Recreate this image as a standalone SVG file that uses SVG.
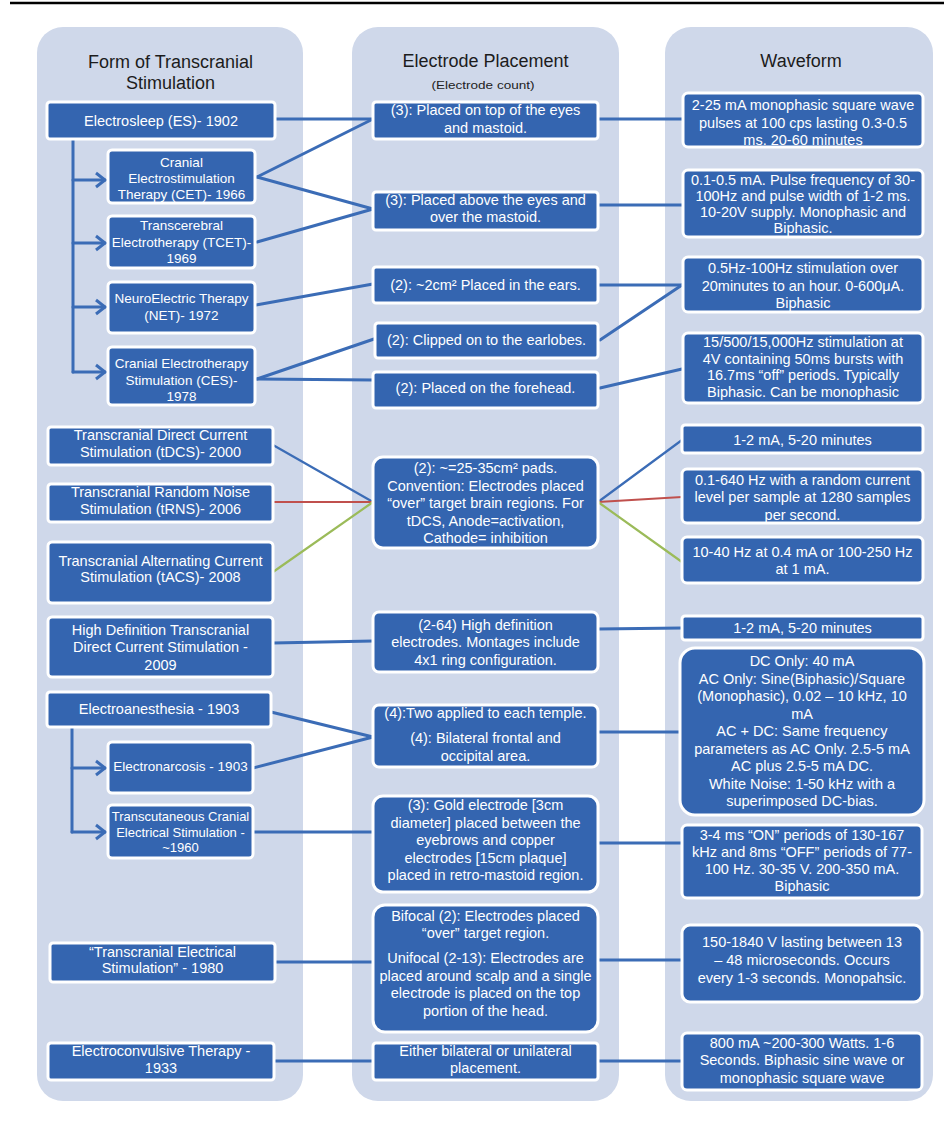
<svg xmlns="http://www.w3.org/2000/svg" width="944" height="1141" viewBox="0 0 944 1141">
<style>
.panel{fill:#cfd8ea}
.hdr{fill:#1c1c1c;font-family:"Liberation Sans",Arial,sans-serif;font-size:18px;text-anchor:middle}
.sub{fill:#222;font-family:"Liberation Sans",Arial,sans-serif;font-size:11px;text-anchor:middle}
.node rect{fill:#3465b0;stroke:#ffffff;stroke-width:3}
.node text{fill:#ffffff;font-family:"Liberation Sans",Arial,sans-serif;font-size:14.5px;text-anchor:middle}
.node text.s{font-size:13.5px}
.node text.xs{font-size:13px}
.c{fill:none;stroke:#3b6cb6;stroke-width:3;stroke-linecap:round}
.thin{stroke-width:2.2}
.red{stroke:#c0504d}
.green{stroke:#9bbb59}
</style>
<defs>
<marker id="arr" markerUnits="userSpaceOnUse" markerWidth="14" markerHeight="18" refX="11" refY="9" orient="auto">
<path d="M2,2 L11,9 L2,16" fill="none" stroke="#3b6cb6" stroke-width="3"/>
</marker>
</defs>
<rect width="944" height="1141" fill="#ffffff"/>
<line x1="10" y1="3" x2="944" y2="3" stroke="#000" stroke-width="2.5"/>
<g id="panels">
<rect class="panel" x="37" y="27" width="266" height="1074" rx="26"/>
<rect class="panel" x="352" y="27" width="267" height="1074" rx="26"/>
<rect class="panel" x="665" y="27" width="268" height="1074" rx="26"/>
<text class="hdr" x="170.5" y="68">Form of Transcranial</text>
<text class="hdr" x="170.5" y="88.5">Stimulation</text>
<text class="hdr" x="485.5" y="67">Electrode Placement</text>
<text class="sub" x="483" y="88.5" textLength="103" lengthAdjust="spacingAndGlyphs">(Electrode count)</text>
<text class="hdr" x="801" y="67">Waveform</text>
</g>
<g id="connectors">
<path class="c" d="M73,139 V372"/>
<path class="c" d="M73,180 H105" marker-end="url(#arr)"/>
<path class="c" d="M73,243 H105" marker-end="url(#arr)"/>
<path class="c" d="M73,307 H105" marker-end="url(#arr)"/>
<path class="c" d="M73,372 H105" marker-end="url(#arr)"/>
<path class="c" d="M72,727 V832"/>
<path class="c" d="M72,768 H105" marker-end="url(#arr)"/>
<path class="c" d="M72,832 H105" marker-end="url(#arr)"/>
<path class="c" d="M275,119 L373,119"/>
<path class="c" d="M257,177 L373,119"/>
<path class="c" d="M257,177 L373,209"/>
<path class="c" d="M257,242 L373,209"/>
<path class="c" d="M256,305 L373,284"/>
<path class="c" d="M257,379 L374,339"/>
<path class="c" d="M257,379 L373,380"/>
<path class="c" d="M598,119 L683,119"/>
<path class="c" d="M598,205 L683,205"/>
<path class="c" d="M598,285 L682,285"/>
<path class="c" d="M600,340 L682,285"/>
<path class="c" d="M600,388 L682,369"/>
<path class="c thin" d="M273,445 L373,502"/>
<path class="c thin red" d="M273,502 L373,502"/>
<path class="c thin green" d="M273,572 L373,502"/>
<path class="c thin" d="M598,502 L682,440"/>
<path class="c thin red" d="M598,502 L682,497"/>
<path class="c thin green" d="M598,502 L682,562"/>
<path class="c" d="M273,643 L373,641"/>
<path class="c" d="M598,629 L682,628"/>
<path class="c" d="M271,712 L373,737"/>
<path class="c" d="M253,768 L373,737"/>
<path class="c" d="M598,732 L680,732"/>
<path class="c" d="M253,832 L373,832"/>
<path class="c" d="M598,843 L682,843"/>
<path class="c" d="M275,962 L373,962"/>
<path class="c" d="M598,960 L682,960"/>
<path class="c" d="M274,1061 L373,1061"/>
<path class="c" d="M598,1061 L682,1061"/>
</g>
<g id="n-es" class="node"><rect x="47" y="102" width="228" height="37" rx="3"/><text x="161" y="125.5">Electrosleep (ES)- 1902</text></g>
<g id="n-cet" class="node"><rect x="108" y="150" width="147" height="53" rx="4"/><text class="s"><tspan x="181.5" y="166.5">Cranial</tspan><tspan x="181.5" y="183">Electrostimulation</tspan><tspan x="181.5" y="199">Therapy (CET)- 1966</tspan></text></g>
<g id="n-tcet" class="node"><rect x="108" y="216" width="147" height="52" rx="4"/><text class="s"><tspan x="181.5" y="230">Transcerebral</tspan><tspan x="181.5" y="246.5">Electrotherapy (TCET)-</tspan><tspan x="181.5" y="263">1969</tspan></text></g>
<g id="n-net" class="node"><rect x="108" y="282" width="147" height="51" rx="4"/><text class="s"><tspan x="181.5" y="303">NeuroElectric Therapy</tspan><tspan x="181.5" y="320">(NET)- 1972</tspan></text></g>
<g id="n-ces" class="node"><rect x="108" y="347" width="147" height="58" rx="4"/><text class="s"><tspan x="181.5" y="368">Cranial Electrotherapy</tspan><tspan x="181.5" y="385">Stimulation (CES)-</tspan><tspan x="181.5" y="401">1978</tspan></text></g>
<g id="n-tdcs" class="node"><rect x="48" y="427" width="225" height="38" rx="3"/><text><tspan x="160.5" y="440">Transcranial Direct Current</tspan><tspan x="160.5" y="457">Stimulation (tDCS)- 2000</tspan></text></g>
<g id="n-trns" class="node"><rect x="48" y="484" width="225" height="38" rx="3"/><text><tspan x="160.5" y="496.5">Transcranial Random Noise</tspan><tspan x="160.5" y="514">Stimulation (tRNS)- 2006</tspan></text></g>
<g id="n-tacs" class="node"><rect x="48" y="542" width="225" height="61" rx="4"/><text><tspan x="160.5" y="565.5">Transcranial Alternating Current</tspan><tspan x="160.5" y="582">Stimulation (tACS)- 2008</tspan></text></g>
<g id="n-hd" class="node"><rect x="48" y="617" width="225" height="60" rx="4"/><text><tspan x="160.5" y="635">High Definition Transcranial</tspan><tspan x="160.5" y="652">Direct Current Stimulation -</tspan><tspan x="160.5" y="669.5">2009</tspan></text></g>
<g id="n-ea" class="node"><rect x="47" y="692" width="224" height="35" rx="3"/><text x="159" y="713.5">Electroanesthesia - 1903</text></g>
<g id="n-en" class="node"><rect x="108" y="742" width="145" height="51" rx="4"/><text class="s" x="180.5" y="771">Electronarcosis - 1903</text></g>
<g id="n-tces" class="node"><rect x="108" y="805" width="145" height="53" rx="4"/><text class="xs"><tspan x="180.5" y="820.5">Transcutaneous Cranial</tspan><tspan x="180.5" y="836.5">Electrical Stimulation -</tspan><tspan x="180.5" y="852">~1960</tspan></text></g>
<g id="n-tes" class="node"><rect x="50" y="943" width="225" height="39" rx="3"/><text><tspan x="162.5" y="956.5">“Transcranial Electrical</tspan><tspan x="162.5" y="972.5">Stimulation” - 1980</tspan></text></g>
<g id="n-ect" class="node"><rect x="48" y="1043" width="226" height="37" rx="3"/><text><tspan x="161" y="1055.5">Electroconvulsive Therapy -</tspan><tspan x="161" y="1072.5">1933</tspan></text></g>
<g id="m1" class="node"><rect x="373" y="102" width="225" height="37" rx="3"/><text><tspan x="485.5" y="115">(3): Placed on top of the eyes</tspan><tspan x="485.5" y="132.5">and mastoid.</tspan></text></g>
<g id="m2" class="node"><rect x="373" y="192" width="225" height="38" rx="3"/><text><tspan x="485.5" y="205">(3): Placed above the eyes and</tspan><tspan x="485.5" y="222">over the mastoid.</tspan></text></g>
<g id="m3" class="node"><rect x="373" y="267" width="225" height="36" rx="3"/><text x="485.5" y="290">(2): ~2cm² Placed in the ears.</text></g>
<g id="m4" class="node"><rect x="375" y="323" width="223" height="35" rx="3"/><text x="486.5" y="345">(2): Clipped on to the earlobes.</text></g>
<g id="m5" class="node"><rect x="373" y="372" width="225" height="36" rx="3"/><text x="485.5" y="392.5">(2): Placed on the forehead.</text></g>
<g id="m6" class="node"><rect x="373" y="457" width="225" height="91" rx="10"/><text><tspan x="485.5" y="473">(2): ~=25-35cm² pads.</tspan><tspan x="485.5" y="490.5">Convention: Electrodes placed</tspan><tspan x="485.5" y="508">“over” target brain regions. For</tspan><tspan x="485.5" y="525.5">tDCS, Anode=activation,</tspan><tspan x="485.5" y="543">Cathode= inhibition</tspan></text></g>
<g id="m7" class="node"><rect x="373" y="612" width="225" height="60" rx="6"/><text><tspan x="485.5" y="630">(2-64) High definition</tspan><tspan x="485.5" y="647">electrodes. Montages include</tspan><tspan x="485.5" y="665">4x1 ring configuration.</tspan></text></g>
<g id="m8" class="node"><rect x="373" y="705" width="225" height="62" rx="6"/><text><tspan x="485.5" y="718">(4):Two applied to each temple.</tspan><tspan x="485.5" y="743">(4): Bilateral frontal and</tspan><tspan x="485.5" y="761">occipital area.</tspan></text></g>
<g id="m9" class="node"><rect x="373" y="796" width="225" height="96" rx="10"/><text><tspan x="485.5" y="810">(3): Gold electrode [3cm</tspan><tspan x="485.5" y="827.5">diameter] placed between the</tspan><tspan x="485.5" y="845">eyebrows and copper</tspan><tspan x="485.5" y="862.5">electrodes [15cm plaque]</tspan><tspan x="485.5" y="880">placed in retro-mastoid region.</tspan></text></g>
<g id="m10" class="node"><rect x="373" y="905" width="225" height="127" rx="12"/><text><tspan x="485.5" y="920.5">Bifocal (2): Electrodes placed</tspan><tspan x="485.5" y="937.5">“over” target region.</tspan><tspan x="485.5" y="962.5">Unifocal (2-13): Electrodes are</tspan><tspan x="485.5" y="980.5">placed around scalp and a single</tspan><tspan x="485.5" y="998">electrode is placed on the top</tspan><tspan x="485.5" y="1015.5">portion of the head.</tspan></text></g>
<g id="m11" class="node"><rect x="373" y="1043" width="225" height="37" rx="3"/><text><tspan x="485.5" y="1056">Either bilateral or unilateral</tspan><tspan x="485.5" y="1073">placement.</tspan></text></g>
<g id="r1" class="node"><rect x="683" y="93" width="240" height="54" rx="5"/><text><tspan x="803" y="110">2-25 mA monophasic square wave</tspan><tspan x="803" y="127.5">pulses at 100 cps lasting 0.3-0.5</tspan><tspan x="803" y="144.5">ms. 20-60 minutes</tspan></text></g>
<g id="r2" class="node"><rect x="683" y="170" width="240" height="67" rx="5"/><text><tspan x="803" y="184.5">0.1-0.5 mA. Pulse frequency of 30-</tspan><tspan x="803" y="200.5">100Hz and pulse width of 1-2 ms.</tspan><tspan x="803" y="216.5">10-20V supply. Monophasic and</tspan><tspan x="803" y="232.5">Biphasic.</tspan></text></g>
<g id="r3" class="node"><rect x="683" y="257" width="240" height="55" rx="5"/><text><tspan x="803" y="273">0.5Hz-100Hz stimulation over</tspan><tspan x="803" y="291">20minutes to an hour. 0-600μA.</tspan><tspan x="803" y="307.5">Biphasic</tspan></text></g>
<g id="r4" class="node"><rect x="683" y="333" width="240" height="70" rx="5"/><text><tspan x="803" y="347">15/500/15,000Hz stimulation at</tspan><tspan x="803" y="363.5">4V containing 50ms bursts with</tspan><tspan x="803" y="380">16.7ms “off” periods. Typically</tspan><tspan x="803" y="396.5">Biphasic. Can be monophasic</tspan></text></g>
<g id="r5" class="node"><rect x="682" y="425" width="241" height="28" rx="3"/><text x="802.5" y="444.5">1-2 mA, 5-20 minutes</text></g>
<g id="r6" class="node"><rect x="682" y="469" width="241" height="54" rx="5"/><text><tspan x="802.5" y="485">0.1-640 Hz with a random current</tspan><tspan x="802.5" y="502">level per sample at 1280 samples</tspan><tspan x="802.5" y="519.5">per second.</tspan></text></g>
<g id="r7" class="node"><rect x="682" y="537" width="241" height="46" rx="5"/><text><tspan x="802.5" y="556.5">10-40 Hz at 0.4 mA or 100-250 Hz</tspan><tspan x="802.5" y="574">at 1 mA.</tspan></text></g>
<g id="r8" class="node"><rect x="682" y="616" width="241" height="24" rx="3"/><text x="802.5" y="632.5">1-2 mA, 5-20 minutes</text></g>
<g id="r9" class="node"><rect x="680" y="648" width="244" height="167" rx="15"/><text><tspan x="802" y="666">DC Only: 40 mA</tspan><tspan x="802" y="683.5">AC Only: Sine(Biphasic)/Square</tspan><tspan x="802" y="701">(Monophasic), 0.02 – 10 kHz, 10</tspan><tspan x="802" y="718.5">mA</tspan><tspan x="802" y="736">AC + DC: Same frequency</tspan><tspan x="802" y="753.5">parameters as AC Only. 2.5-5 mA</tspan><tspan x="802" y="771">AC plus 2.5-5 mA DC.</tspan><tspan x="802" y="788.5">White Noise: 1-50 kHz with a</tspan><tspan x="802" y="806">superimposed DC-bias.</tspan></text></g>
<g id="r10" class="node"><rect x="682" y="825" width="240" height="73" rx="5"/><text><tspan x="802" y="840">3-4 ms “ON” periods of 130-167</tspan><tspan x="802" y="857">kHz and 8ms “OFF” periods of 77-</tspan><tspan x="802" y="874">100 Hz. 30-35 V. 200-350 mA.</tspan><tspan x="802" y="891">Biphasic</tspan></text></g>
<g id="r11" class="node"><rect x="682" y="925" width="240" height="77" rx="8"/><text><tspan x="802" y="946.5">150-1840 V lasting between 13</tspan><tspan x="802" y="965">– 48 microseconds. Occurs</tspan><tspan x="802" y="983">every 1-3 seconds. Monopahsic.</tspan></text></g>
<g id="r12" class="node"><rect x="682" y="1033" width="240" height="57" rx="5"/><text><tspan x="802" y="1047.5">800 mA ~200-300 Watts. 1-6</tspan><tspan x="802" y="1065">Seconds. Biphasic sine wave or</tspan><tspan x="802" y="1082.5">monophasic square wave</tspan></text></g>
</svg>
